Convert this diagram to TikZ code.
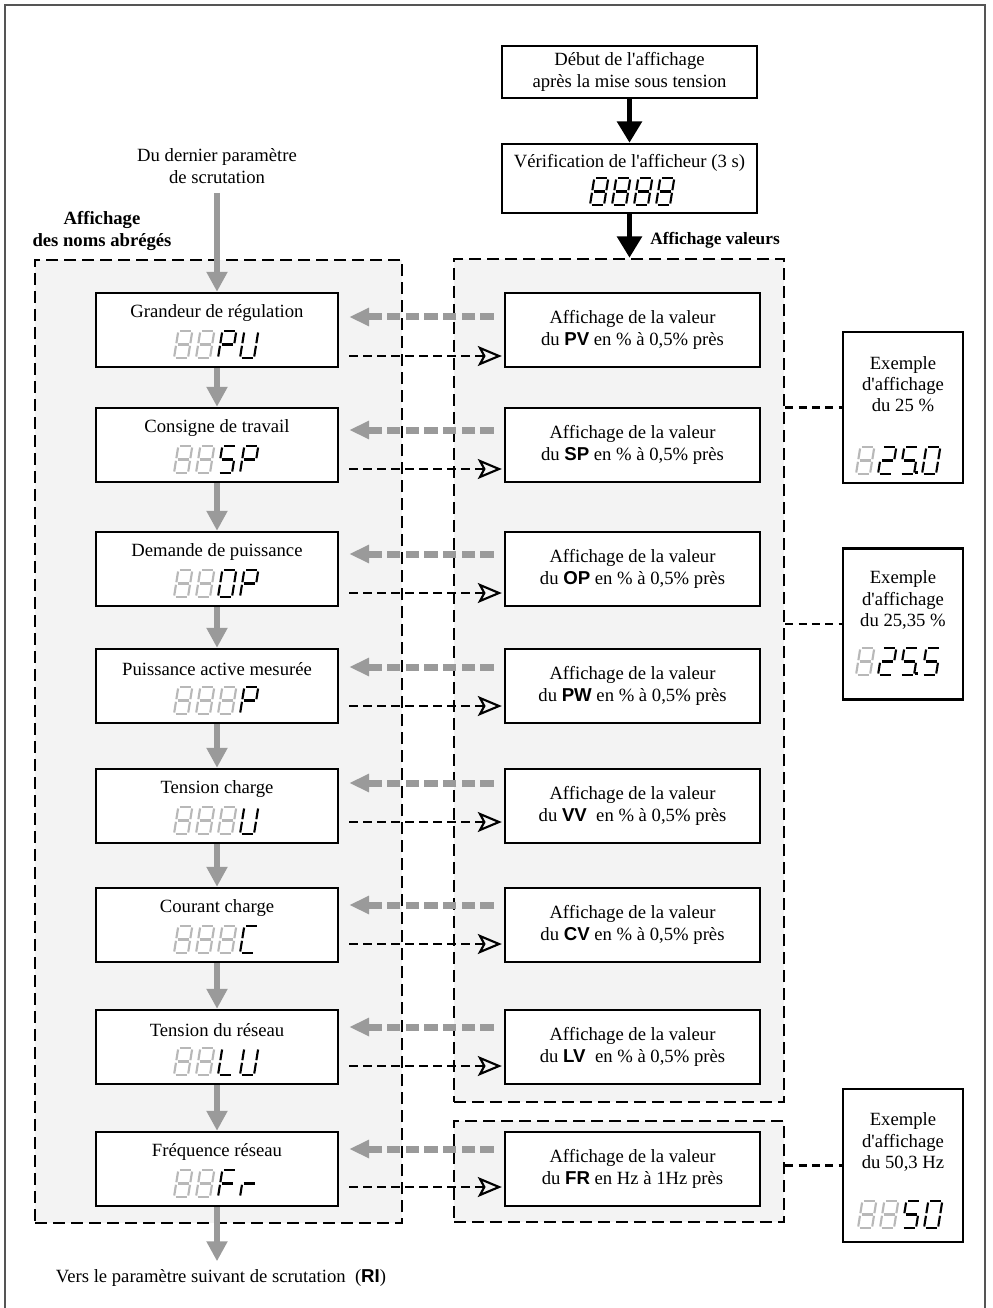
\documentclass[tikz,border=0pt]{standalone}
\usepackage{fontspec}
\setmainfont{Liberation Serif}
\setsansfont{Liberation Sans}
\usetikzlibrary{arrows.meta}

\definecolor{zonefill}{HTML}{F3F3F3}
\definecolor{flowgray}{HTML}{9A9A9A}
\definecolor{segoff}{HTML}{B8B8B8}
\definecolor{framegray}{HTML}{555555}

\newcommand\q{\textquotesingle}

\newcommand\sga{\draw (1.5,27) -- (12.5,27);}
\newcommand\sgb{\draw (14,25.5) -- (14,14.8);}
\newcommand\sgc{\draw (14,12.2) -- (14,1.5);}
\newcommand\sgd{\draw (1.5,0) -- (12.5,0);}
\newcommand\sge{\draw (0,1.5) -- (0,12.2);}
\newcommand\sgf{\draw (0,14.8) -- (0,25.5);}
\newcommand\sgg{\draw (1.5,13.5) -- (12.5,13.5);}

\expandafter\def\csname dig8\endcsname{a,b,c,d,e,f,g}
\expandafter\def\csname dig0\endcsname{a,b,c,d,e,f}
\expandafter\def\csname dig2\endcsname{a,b,g,e,d}
\expandafter\def\csname dig5\endcsname{a,f,g,c,d}
\expandafter\def\csname digS\endcsname{a,f,g,c,d}
\expandafter\def\csname digO\endcsname{a,b,c,d,e,f}
\expandafter\def\csname digP\endcsname{a,b,e,f,g}
\expandafter\def\csname digU\endcsname{b,c,d,e,f}
\expandafter\def\csname digC\endcsname{a,d,e,f}
\expandafter\def\csname digL\endcsname{d,e,f}
\expandafter\def\csname digF\endcsname{a,e,f,g}
\expandafter\def\csname digr\endcsname{e,g}

\newcommand\segdigit[4]{%
  \edef\seglist{\csname dig#4\endcsname}%
  \begin{scope}[shift={(#1,#2)},yscale=-1,xslant=-0.16,color=#3,line width=1.6pt]
    \foreach \s in \seglist {\csname sg\s\endcsname}
  \end{scope}}

\newcommand\showdigits[4]{%
  \ifnum#3>0
    \foreach \k in {1,...,#3} {\segdigit{#1+\k*22-22}{#2}{segoff}{8}}
  \fi
  \foreach \ch [count=\k from #3] in #4 {\segdigit{#1+\k*22}{#2}{black}{\ch}}}

\tikzset{
  shortbox/.style={draw, line width=1.8pt, fill=white, inner sep=0pt},
  zone/.style={draw, line width=1.8pt, dash pattern=on 9pt off 4.5pt, fill=zonefill, inner sep=0pt},
  txt/.style={font=\fontsize{14}{16}\selectfont, align=center, inner sep=0pt},
  flow/.style={draw=flowgray, line width=4.5pt, -{Triangle[length=15pt,width=15pt]}},
  grayback/.style={draw=flowgray, line width=5.25pt, dash pattern=on 10pt off 4pt,
    shorten <=7.5pt, shorten >=7.5pt, -{Triangle[length=15pt,width=13pt]}},
  dashfwd/.style={line width=1.6pt, dash pattern=on 6.75pt off 3.75pt,
    shorten <=7.5pt, shorten >=1.5pt, -{Stealth[open,length=18pt,width=15pt,inset=4pt]}},
  exlink/.style={line width=1.6pt, dash pattern=on 6pt off 4pt},
  startarrow/.style={line width=4pt, -{Triangle[length=16pt,width=18pt]}},
}

\begin{document}
\begin{tikzpicture}[x=0.75pt,y=-0.75pt]
\useasboundingbox (0,0) rectangle (992,1308);
\draw[framegray, line width=1.1pt] (5,1312) |- (985,5) -- (985,1312);

\node[zone, minimum width=275.25pt, minimum height=722.25pt] (znames) at (218.5,741.5) {};
\node[zone, minimum width=247.5pt, minimum height=632.25pt] (zvals) at (619,680.5) {};
\node[zone, minimum width=247.5pt, minimum height=75.75pt] (zfreq) at (619,1171.5) {};

\node[shortbox, txt, minimum width=191.25pt, minimum height=39pt] (start) at (629.5,72) {Début de l\q affichage\\après la mise sous tension};
\node[shortbox, minimum width=191.25pt, minimum height=51.75pt] (check) at (629.5,178.5) {};
\node[txt] at (629.5,163) {Vérification de l\q afficheur (3 s)};
\showdigits{590}{205}{0}{{8,8,8,8}}
\draw[startarrow] (start) -- (check);
\draw[startarrow] (check.south) -- (check.south |- zvals.north);
\node[txt, font=\fontsize{13}{15}\selectfont\bfseries, anchor=west] (vallbl) at (650,240) {Affichage valeurs};

\node[txt, font=\fontsize{14}{16}\selectfont\bfseries] (namelbl) at (102,231) {Affichage\\des noms abrégés};
\node[txt] (fromprev) at (217,166) {Du dernier paramètre\\de scrutation};

\foreach \c/\gy/\by/\t/\g/\d/\v/\u [count=\i] in {
  330/317/356/Grandeur de régulation/2/{P,U}/PV/{ en \% à 0,5\% près},
  445/430/469/Consigne de travail/2/{S,P}/SP/{ en \% à 0,5\% près},
  569/554/593/Demande de puissance/2/{O,P}/OP/{ en \% à 0,5\% près},
  686/667/706/Puissance active mesurée/3/P/PW/{ en \% à 0,5\% près},
  806/783/822/Tension charge/3/U/VV/{\ \ en \% à 0,5\% près},
  925/905/944/Courant charge/3/C/CV/{ en \% à 0,5\% près},
  1047/1027/1066/Tension du réseau/2/{L,U}/LV/{\ \ en \% à 0,5\% près},
  1169/1149/1187/Fréquence réseau/2/{F,r}/FR/{ en Hz à 1Hz près}
} {
  \node[shortbox, minimum width=181.5pt, minimum height=55.5pt] (n\i) at (217,\c) {};
  \node[txt] at (217,\c-17) {\t};
  \showdigits{174}{\c+28}{\g}{\d}
  \node[shortbox, txt, minimum width=191.25pt, minimum height=55.5pt] (v\i) at (632.5,\c) {Affichage de la valeur\\du \textsf{\bfseries\v}\u};
  \draw[grayback] (v\i.west |- 0,\gy) -- (n\i.east |- 0,\gy);
  \draw[dashfwd] (n\i.east |- 0,\by) -- (v\i.west |- 0,\by);
}

\foreach \i [evaluate=\i as \j using int(\i+1)] in {1,...,7}
  \draw[flow] (n\i) -- (n\j);
\draw[flow, shorten <=7pt] (fromprev) -- (n1);
\node[txt] (tonext) at (221,1278) {Vers le paramètre suivant de scrutation\ \ (\textsf{\bfseries RI})};
\draw[flow, shorten >=6pt] (n8.south) -- (n8.south |- tonext.north);

\node[shortbox, minimum width=90pt, minimum height=113.25pt] (exa) at (903,407.5) {};
\node[txt] at (903,384) {Exemple\\d\q affichage\\du 25 \%};
\showdigits{856}{474}{1}{{2,5,0}}
\fill (915,474) rectangle ++(3,-3);
\draw[exlink] (zvals.east |- exa.west) -- (exa.west);

\node[shortbox, minimum width=90pt, minimum height=113.25pt] (exb) at (903,624) {};
\node[txt] at (903,600) {Exemple\\d\q affichage\\du 25,35 \%};
\showdigits{856}{675}{1}{{2,5,5}}
\fill (915,675) rectangle ++(3,-3);
\draw[exlink] (zvals.east |- exb.west) -- (exb.west);

\node[shortbox, minimum width=90pt, minimum height=114.75pt] (exc) at (903,1165.5) {};
\node[txt] at (903,1142) {Exemple\\d\q affichage\\du 50,3 Hz};
\showdigits{858}{1228}{2}{{5,0}}
\draw[exlink] (zfreq.east |- exc.west) -- (exc.west);
\end{tikzpicture}
\end{document}
